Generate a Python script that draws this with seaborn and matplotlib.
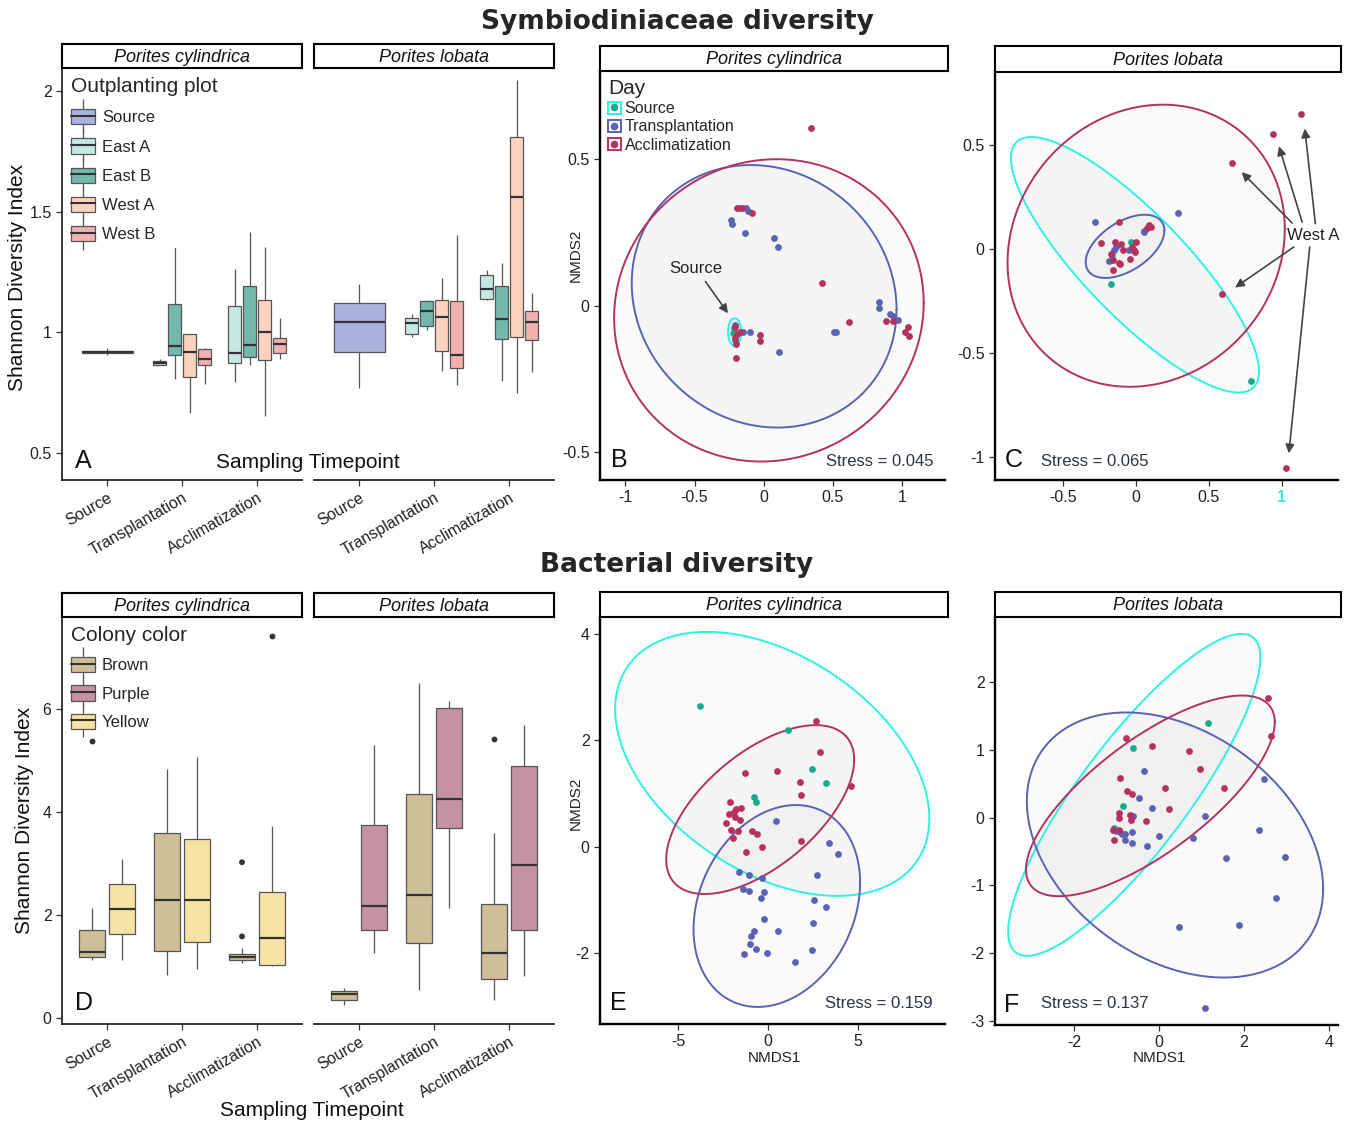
import numpy as np
import pandas as pd
import matplotlib.pyplot as plt
import seaborn as sns
from matplotlib.patches import Patch
from matplotlib.lines import Line2D
from matplotlib.legend_handler import HandlerTuple

sns.set_theme(style="ticks")
plt.rcParams["font.family"] = ["Liberation Sans", "DejaVu Sans"]

W, H = 1347, 1123

# ---------------- categories ----------------
time_order = ["Source", "Transplantation", "Acclimatization"]
plot_order = ["Source", "East A", "East B", "West A", "West B"]
plot_colors = ["#aab2e0", "#c4e8e2", "#73b8ad", "#fdd3c0", "#f2b1b1"]
colony_order = ["Brown", "Purple", "Yellow"]
colony_colors = ["#cfbf99", "#c592a3", "#f7e3a3"]
day_labels = ["Source", "Transplantation", "Acclimatization"]
day_line_colors = ["#2ef2e4", "#5b62b1", "#b5315f"]
day_point_colors = ["#1aaa8f", "#5b62b1", "#b5315f"]

# ---------------- panel A: Symbiodiniaceae Shannon (5-number summaries) ----------------
a_species = ["cyl"] * 9 + ["lob"] * 9
a_time = (["Source"] + ["Transplantation"] * 4 + ["Acclimatization"] * 4) * 2
a_plot = (["Source"] + ["East A", "East B", "West A", "West B"] * 2) * 2
a_lo = [0.905, 0.863, 0.805, 0.667, 0.787, 0.794, 0.863, 0.653, 0.891,
        0.771, 0.982, 1.012, 0.840, 0.782, 1.133, 0.798, 0.750, 0.836]
a_q1 = [0.915, 0.863, 0.905, 0.816, 0.863, 0.874, 0.899, 0.885, 0.916,
        0.918, 0.992, 1.026, 0.925, 0.851, 1.137, 0.971, 0.981, 0.968]
a_med = [0.920, 0.872, 0.943, 0.920, 0.891, 0.916, 0.946, 1.003, 0.954,
         1.043, 1.040, 1.088, 1.065, 0.905, 1.181, 1.057, 1.562, 1.043]
a_q3 = [0.925, 0.881, 1.119, 0.993, 0.931, 1.108, 1.192, 1.133, 0.978,
        1.123, 1.061, 1.130, 1.135, 1.130, 1.238, 1.192, 1.811, 1.088]
a_hi = [0.935, 0.891, 1.385, 0.993, 0.936, 1.264, 1.416, 1.355, 1.060,
        1.203, 1.075, 1.134, 1.224, 1.403, 1.258, 1.289, 2.048, 1.164]

# ---------------- panel D: bacterial Shannon ----------------
d_species = ["cyl"] * 6 + ["lob"] * 6
d_time = ["Source", "Source", "Transplantation", "Transplantation", "Acclimatization", "Acclimatization"] * 2
d_color = ["Brown", "Yellow"] * 3 + ["Brown", "Purple"] * 3
d_lo = [1.12, 1.13, 0.84, 0.94, 1.06, 1.01, 0.25, 1.26, 0.54, 2.13, 0.34, 0.82]
d_q1 = [1.19, 1.63, 1.29, 1.47, 1.13, 1.03, 0.34, 1.71, 1.46, 3.68, 0.75, 1.70]
d_med = [1.28, 2.12, 2.28, 2.28, 1.18, 1.54, 0.46, 2.18, 2.38, 4.25, 1.26, 2.96]
d_q3 = [1.70, 2.60, 3.58, 3.47, 1.24, 2.45, 0.52, 3.74, 4.35, 6.01, 2.20, 4.89]
d_hi = [2.13, 3.09, 4.82, 5.07, 1.36, 3.73, 0.58, 5.29, 6.50, 6.14, 3.58, 5.68]
d_out_species = ["cyl", "cyl", "cyl", "cyl", "lob"]
d_out_time = ["Source", "Acclimatization", "Acclimatization", "Acclimatization", "Acclimatization"]
d_out_color = ["Brown", "Brown", "Brown", "Yellow", "Brown"]
d_out_value = [5.38, 1.58, 3.02, 7.41, 5.41]

# ---------------- NMDS points ----------------
B_src_x = [-0.222, -0.212, -0.205]
B_src_y = [-0.094, -0.075, -0.118]
B_tra_x = [-0.234, -0.229, -0.138, -0.13, -0.114, 0.072, 0.104, 0.833, 0.833, 0.913, 0.937,
           0.973, 0.507, 0.522, 0.109, -0.15, -0.101, -0.205]
B_tra_y = [0.292, 0.279, 0.247, 0.332, 0.324, 0.231, 0.2, 0.011, -0.009, -0.028, -0.035,
           -0.049, -0.091, -0.091, -0.159, -0.089, -0.089, -0.066]
B_acc_x = [0.345, -0.193, -0.174, -0.155, -0.085, 0.423, 0.618, 0.884, 0.937, 1.041, 1.022,
           1.053, -0.029, -0.024, -0.198, -0.21, -0.174, -0.205, -0.198, -0.19]
B_acc_y = [0.607, 0.332, 0.332, 0.332, 0.315, 0.078, -0.055, -0.052, -0.052, -0.074, -0.091,
           -0.104, -0.099, -0.121, -0.177, -0.074, -0.089, -0.109, -0.131, -0.095]

C_src_x = [-0.175, 0.786, -0.034, -0.164]
C_src_y = [-0.168, -0.632, 0.035, -0.029]
C_tra_x = [-0.28, 0.285, 0.057, 0.052, -0.187, -0.153, -0.137, -0.05]
C_tra_y = [0.131, 0.173, 0.088, 0.083, -0.056, -0.005, 0.011, -0.002]
C_acc_x = [1.132, 0.941, 0.656, 0.592, 1.03, -0.118, -0.239, 0.087, 0.103, 0.075, -0.144, -0.103,
           -0.087, -0.171, -0.159, -0.159, -0.109, -0.039, -0.016, 0.0, -0.007, -0.03, -0.118]
C_acc_y = [0.648, 0.554, 0.416, -0.213, -1.05, 0.131, 0.032, 0.115, 0.107, 0.104, 0.035, 0.024,
           -0.005, -0.021, -0.053, -0.098, -0.069, -0.045, -0.005, 0.035, -0.013, 0.011, -0.066]

E_src_x = [-3.79, 1.13, 2.43, 3.25, -0.78, -0.63]
E_src_y = [2.64, 2.19, 1.46, 1.19, 0.94, 0.83]
E_tra_x = [0.46, 3.38, 3.90, 2.71, -1.62, -1.06, -0.32, -1.38, -1.06, -0.19, -0.37, 2.57, 3.22,
           -0.19, 2.49, -0.78, 0.54, -0.91, -1.0, -0.63, -1.30, -0.04, 2.43, 1.49]
E_tra_y = [0.49, 0.06, -0.14, -0.53, -0.48, -0.53, -0.58, -0.79, -0.84, -0.86, -0.96, -1.0, -1.13,
           -1.36, -1.43, -1.58, -1.58, -1.68, -1.83, -1.93, -2.01, -1.99, -1.94, -2.16]
E_acc_x = [2.66, 2.92, 4.65, -1.25, 0.52, 1.78, 1.82, 1.82, -2.08, -1.75, -1.51, -1.90, -1.82,
           -2.17, -2.30, -2.04, -1.91, -1.67, -1.52, -0.87, -0.59, -0.32, -1.21]
E_acc_y = [2.36, 1.78, 1.14, 1.39, 1.41, 1.21, 0.97, 0.11, 0.84, 0.71, 0.72, 0.65, 0.56,
           0.61, 0.45, 0.31, 0.16, 0.30, 0.50, 0.30, 0.23, 0.0, -0.11]

F_src_x = [1.16, -0.62, -0.85, -1.05]
F_src_y = [1.39, 1.03, 0.17, -0.16]
F_tra_x = [-0.35, -0.46, -0.16, -0.60, 1.08, 2.48, 2.36, 2.98, 1.59, 0.81, 0.0, -0.29, -0.64,
           -0.64, -0.80, -0.80, -1.0, -0.92, -0.88, 2.77, 1.89, 0.47, 1.08]
F_tra_y = [0.69, 0.29, 0.14, 0.03, 0.02, 0.57, -0.19, -0.58, -0.59, -0.30, -0.27, -0.42, -0.38,
           -0.21, -0.33, -0.25, -0.2, -0.22, -0.24, -1.18, -1.59, -1.61, -2.81]
F_acc_x = [2.56, 2.65, -0.78, -0.17, 0.71, 0.96, 1.53, 0.14, -0.92, -0.74, -0.63, 0.24, -0.93,
           -0.93, -0.68, -0.66, -0.31, -1.07, -0.93, -1.06]
F_acc_y = [1.76, 1.21, 1.18, 1.06, 0.98, 0.71, 0.43, 0.43, 0.58, 0.39, 0.34, 0.13, 0.06,
           -0.01, 0.04, -0.03, -0.05, -0.18, -0.18, -0.33]

# ellipses: centre x, centre y, half x-range, half y-range, correlation
B_ell = [[-0.21, -0.09, 0.048, 0.047, 0.0], [0.0035, 0.032, 0.958, 0.448, -0.1], [0.038, -0.016, 1.12, 0.516, 0.05]]
C_ell = [[-0.008, -0.0745, 0.851, 0.614, -0.835], [-0.076, 0.014, 0.27, 0.152, 0.5], [0.069, 0.017, 0.951, 0.678, 0.12]]
E_ell = [[0.245, 1.553, 8.735, 2.478, -0.415], [0.5, -1.115, 4.63, 1.895, 0.23], [-0.425, 0.695, 5.225, 1.585, 0.59]]
F_ell = [[-0.58, 0.335, 2.97, 2.375, 0.85], [0.38, -0.405, 3.49, 1.955, -0.33], [-0.2, 0.32, 2.93, 1.48, 0.735]]

# annotations in panel C (West A arrows)
C_arrow_from = [(1.071, 0.126), (1.139, 0.131), (1.23, 0.123), (1.082, 0.011), (1.191, 0.011)]
C_arrow_to = [(0.724, 0.371), (0.98, 0.495), (1.157, 0.58), (0.679, -0.184), (1.048, -0.981)]


def rect(x0, y0, x1, y1):
    return [x0 / W, 1 - y1 / H, (x1 - x0) / W, (y1 - y0) / H]


def ftxt(px, py, s, **kw):
    fig.text(px / W, 1 - py / H, s, **kw)


def strip(x0, y0, x1, y1, label):
    sa = fig.add_axes(rect(x0, y0, x1, y1))
    sa.set_xticks([])
    sa.set_yticks([])
    for sp in sa.spines.values():
        sp.set_visible(True)
        sp.set_color("black")
        sp.set_linewidth(1.5)
    sa.text(0.5, 0.45, label, ha="center", va="center", fontsize=13, style="italic", color="#111")


def long_table(species, time, group, cols):
    rows = []
    for i in range(len(species)):
        for c in cols:
            rows.append((species[i], time[i], group[i], c[i]))
    return pd.DataFrame(rows, columns=["species", "time", "group", "value"])


def box_facet(ax, df, levels, pal):
    for t in time_order:
        sub = df[df.time == t]
        hues = [l for l in levels if l in set(sub.group)]
        if not hues:
            continue
        sns.boxplot(data=sub, x="time", y="value", hue="group", order=time_order, hue_order=hues,
                    palette=pal, saturation=1, width=0.8, gap=0.15, whis=(0, 100), showcaps=False,
                    showfliers=False, linecolor="#555555", linewidth=0.9,
                    medianprops=dict(color="#333333", linewidth=1.6), legend=False, ax=ax)
    ax.set_xlim(-0.6, 2.6)
    ax.set_xlabel("")
    ax.set_ylabel("")
    sns.despine(ax=ax)
    ax.tick_params(axis="both", direction="out", length=4, width=0.9, color="#333",
                   labelsize=11.5, labelcolor="#222")
    ax.spines["left"].set_linewidth(1.3)
    ax.spines["bottom"].set_linewidth(1.3)
    ax.set_xticks(range(3))
    ax.set_xticklabels(time_order, rotation=30, ha="right", rotation_mode="anchor")


def box_legend(ax, levels, pal, title, spacing):
    handles = []
    for l in levels:
        vline = Line2D([], [], marker="|", linestyle="None", color="#555555", markersize=24, markeredgewidth=0.9)
        patch = Patch(facecolor=pal[l], edgecolor="#555555", linewidth=0.9)
        med = Line2D([], [], color="#333333", linewidth=1.5)
        handles.append((vline, patch, med))
    leg = ax.legend(handles, levels, handler_map={tuple: HandlerTuple(ndivide=1)}, title=title,
                    loc="upper left", bbox_to_anchor=(0.0, 1.0), fontsize=12, title_fontsize=15,
                    frameon=True, facecolor="white", edgecolor="none", framealpha=1,
                    handlelength=1.45, handleheight=1.05, labelspacing=spacing, handletextpad=0.4,
                    borderpad=0.35, borderaxespad=0.2, alignment="left")
    return leg


def ellipse(ax, p, color):
    cx, cy, a, b, r = p
    t = np.linspace(0, 2 * np.pi, 300)
    ex = cx + a * np.cos(t)
    ey = cy + b * (r * np.cos(t) - np.sqrt(1 - r * r) * np.sin(t))
    ax.fill(ex, ey, color="black", alpha=0.018, lw=0, zorder=1)
    ax.plot(ex, ey, color=color, lw=1.4, zorder=2)


def nmds(ax, groups, ells, xlim, ylim, xt, yt):
    for i in range(3):
        ellipse(ax, ells[i], day_line_colors[i])
    for i, (gx, gy) in enumerate(groups):
        sns.scatterplot(x=gx, y=gy, color=day_point_colors[i], s=24, linewidth=0, ax=ax, zorder=3)
    ax.set_xlim(*xlim)
    ax.set_ylim(*ylim)
    ax.set_xticks(xt)
    ax.set_xticklabels([f"{v:g}" for v in xt])
    ax.set_yticks(yt)
    ax.set_yticklabels([f"{v:g}" for v in yt])
    sns.despine(ax=ax)
    ax.spines["left"].set_linewidth(1.7)
    ax.spines["bottom"].set_linewidth(1.7)
    ax.spines["left"].set_color("black")
    ax.spines["bottom"].set_color("black")
    ax.tick_params(axis="both", direction="out", length=4, width=0.9, color="#333",
                   labelsize=11.5, labelcolor="#222")


fig = plt.figure(figsize=(W / 100, H / 100), dpi=100)

ftxt(677, 22, "Symbiodiniaceae diversity", ha="center", va="center", fontsize=19,
     fontweight="bold", family=["DejaVu Sans"])
ftxt(677, 565, "Bacterial diversity", ha="center", va="center", fontsize=19,
     fontweight="bold", family=["DejaVu Sans"])

# ---------- panel A ----------
pal_A = dict(zip(plot_order, plot_colors))
dfA = long_table(a_species, a_time, a_plot, [a_lo, a_q1, a_med, a_q3, a_hi])
axA1 = fig.add_axes(rect(62, 68, 302, 480))
axA2 = fig.add_axes(rect(314, 68, 554, 480))
for ax, sp in [(axA1, "cyl"), (axA2, "lob")]:
    box_facet(ax, dfA[dfA.species == sp], plot_order, pal_A)
    ax.set_ylim(0.388, 2.097)
    ax.set_yticks([0.5, 1, 1.5, 2])
    ax.set_yticklabels(["0.5", "1", "1.5", "2"])
axA2.spines["left"].set_visible(False)
axA2.tick_params(axis="y", left=False, labelleft=False)
box_legend(axA1, plot_order, pal_A, "Outplanting plot", 0.77)
strip(62, 44, 302, 68, "Porites cylindrica")
strip(314, 44, 554, 68, "Porites lobata")
ftxt(18, 277, "Shannon Diversity Index", rotation=90, ha="center", va="center", fontsize=15, color="#111")
ftxt(308, 462, "Sampling Timepoint", ha="center", va="center", fontsize=15, color="#111")
ftxt(83, 461, "A", ha="center", va="center", fontsize=18, color="#111")

# ---------- panel D ----------
pal_D = dict(zip(colony_order, colony_colors))
dfD = long_table(d_species, d_time, d_color, [d_lo, d_q1, d_med, d_q3, d_hi])
dfD_out = pd.DataFrame({"species": d_out_species, "time": d_out_time, "group": d_out_color,
                        "value": d_out_value})
axD1 = fig.add_axes(rect(62, 617, 302, 1024))
axD2 = fig.add_axes(rect(314, 617, 554, 1024))
for ax, sp in [(axD1, "cyl"), (axD2, "lob")]:
    sub = dfD[dfD.species == sp]
    hues = [c for c in colony_order if c in set(sub.group)]
    box_facet(ax, sub, colony_order, pal_D)
    out = dfD_out[dfD_out.species == sp]
    sns.stripplot(data=out, x="time", y="value", hue="group", order=time_order, hue_order=hues,
                  dodge=True, jitter=False, palette={c: "#333333" for c in colony_order},
                  size=4.2, legend=False, ax=ax, zorder=4)
    ax.set_xlim(-0.6, 2.6)
    ax.set_xlabel("")
    ax.set_ylabel("")
    ax.set_ylim(-0.12, 7.78)
    ax.set_yticks([0, 2, 4, 6])
    ax.set_yticklabels(["0", "2", "4", "6"])
axD2.spines["left"].set_visible(False)
axD2.tick_params(axis="y", left=False, labelleft=False)
box_legend(axD1, colony_order, pal_D, "Colony color", 0.71)
strip(62, 593, 302, 617, "Porites cylindrica")
strip(314, 593, 554, 617, "Porites lobata")
ftxt(25, 820, "Shannon Diversity Index", rotation=90, ha="center", va="center", fontsize=15, color="#111")
ftxt(312, 1111, "Sampling Timepoint", ha="center", va="center", fontsize=15, color="#111")
ftxt(84, 1003, "D", ha="center", va="center", fontsize=18, color="#111")

# ---------- panel B ----------
axB = fig.add_axes(rect(600, 71, 945, 480))
nmds(axB, [(B_src_x, B_src_y), (B_tra_x, B_tra_y), (B_acc_x, B_acc_y)], B_ell,
     (-1.184, 1.312), (-0.595, 0.801), [-1, -0.5, 0, 0.5, 1], [-0.5, 0, 0.5])
axB.annotate("Source", xy=(-0.258, -0.026), xytext=(-0.488, 0.127), ha="center", va="center",
             fontsize=12, color="#222",
             arrowprops=dict(arrowstyle="-|>", mutation_scale=13, color="#444", lw=1.2, shrinkB=0))
leg_handles = [(Patch(facecolor="white", edgecolor=day_line_colors[i], linewidth=1.4),
                Line2D([], [], marker="o", linestyle="None", color=day_point_colors[i], markersize=4.5))
               for i in range(3)]
axB.legend(leg_handles, day_labels, handler_map={tuple: HandlerTuple(ndivide=1)}, title="Day",
           loc="upper left", bbox_to_anchor=(0.0, 1.0), fontsize=11.5, title_fontsize=15,
           frameon=False, handlelength=0.8, handleheight=0.8, labelspacing=0.2,
           handletextpad=0.25, borderpad=0.3, borderaxespad=0.2, alignment="left")
strip(600, 46, 948, 71, "Porites cylindrica")
ftxt(576, 255, "NMDS2", rotation=90, ha="center", va="center", fontsize=11, color="#222")
ftxt(619, 460, "B", ha="center", va="center", fontsize=18, color="#111")
ftxt(933, 461, "Stress = 0.045", ha="right", va="center", fontsize=12, color="#2a3540")

# ---------- panel C ----------
axC = fig.add_axes(rect(995, 72, 1338, 480))
nmds(axC, [(C_src_x, C_src_y), (C_tra_x, C_tra_y), (C_acc_x, C_acc_y)], C_ell,
     (-0.968, 1.385), (-1.109, 0.852), [-0.5, 0, 0.5, 1], [-1, -0.5, 0, 0.5])
one = axC.get_xticklabels()[3]
one.set_color("#3de8d8")
one.set_fontweight("bold")
axC.text(1.214, 0.067, "West A", ha="center", va="center", fontsize=12, color="#222", zorder=5)
for p0, p1 in zip(C_arrow_from, C_arrow_to):
    axC.annotate("", xy=p1, xytext=p0,
                 arrowprops=dict(arrowstyle="-|>", mutation_scale=13, color="#444", lw=1.2,
                                 shrinkA=0, shrinkB=0))
strip(995, 46, 1341, 72, "Porites lobata")
ftxt(1014, 460, "C", ha="center", va="center", fontsize=18, color="#111")
ftxt(1041, 461, "Stress = 0.065", ha="left", va="center", fontsize=12, color="#2a3540")

# ---------- panel E ----------
axE = fig.add_axes(rect(600, 617, 945, 1024))
nmds(axE, [(E_src_x, E_src_y), (E_tra_x, E_tra_y), (E_acc_x, E_acc_y)], E_ell,
     (-9.33, 9.85), (-3.33, 4.31), [-5, 0, 5], [-2, 0, 2, 4])
strip(600, 592, 948, 617, "Porites cylindrica")
ftxt(576, 803, "NMDS2", rotation=90, ha="center", va="center", fontsize=11, color="#222")
ftxt(774, 1058, "NMDS1", ha="center", va="center", fontsize=11, color="#222")
ftxt(618, 1003, "E", ha="center", va="center", fontsize=18, color="#111")
ftxt(933, 1003, "Stress = 0.159", ha="right", va="center", fontsize=12, color="#2a3540")

# ---------- panel F ----------
axF = fig.add_axes(rect(995, 617, 1338, 1025))
nmds(axF, [(F_src_x, F_src_y), (F_tra_x, F_tra_y), (F_acc_x, F_acc_y)], F_ell,
     (-3.86, 4.22), (-3.06, 2.958), [-2, 0, 2, 4], [-3, -2, -1, 0, 1, 2])
strip(995, 592, 1341, 617, "Porites lobata")
ftxt(1159, 1058, "NMDS1", ha="center", va="center", fontsize=11, color="#222")
ftxt(1012, 1005, "F", ha="center", va="center", fontsize=18, color="#111")
ftxt(1041, 1003, "Stress = 0.137", ha="left", va="center", fontsize=12, color="#2a3540")

fig.savefig("out.png", dpi=100)
